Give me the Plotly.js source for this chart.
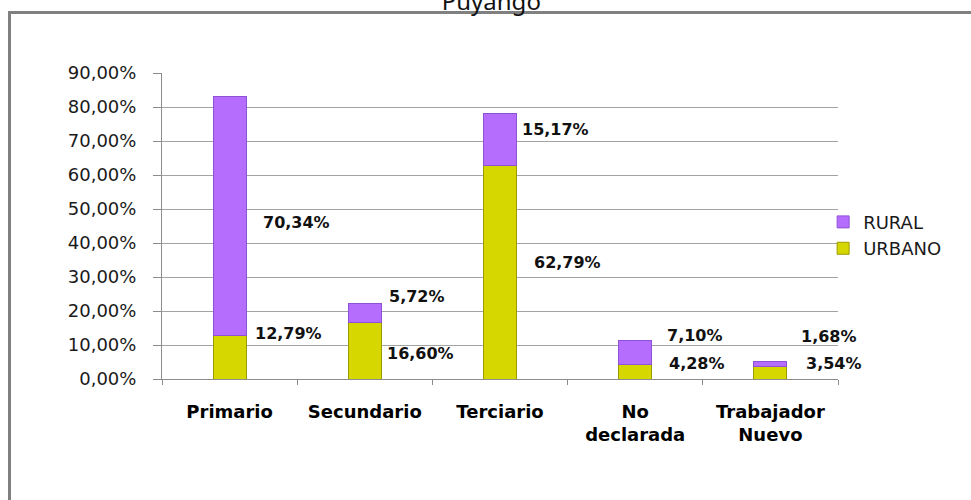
<!DOCTYPE html>
<html>
<head>
<meta charset="utf-8">
<script src="https://cdn.plot.ly/plotly-3.0.1.min.js"></script>
<style>
  body { margin: 0; background: #fff; }
  #plot { width: 971px; height: 500px; }
</style>
</head>
<body>
<div id="plot"></div>
<script>
// sectores de actividad - Puyango
var categories = ["Primario", "Secundario", "Terciario", "No<br>declarada", "Trabajador<br>Nuevo"];
var urbano = [12.79, 16.60, 62.79, 4.28, 3.54];
var rural = [70.34, 5.72, 15.17, 7.10, 1.68];

// where the value labels sit (y in axis units, x shift in px from bar centre)
var urbanoLabelY = [13.5, 7.6, 34.4, 4.7, 4.7];
var ruralLabelY = [45.9, 24.4, 73.5, 12.9, 12.6];
var urbanoLabelDx = [23, 20, 32, 32, 34];
var ruralLabelDx = [31, 22, 20, 30, 29];

function pct(v) {
  return v.toFixed(2).replace(".", ",") + "%";
}

var trace1 = {
  x: categories,
  y: urbano,
  name: "URBANO",
  type: "bar",
  width: 0.245,
  marker: { color: "#d6d600", line: { color: "#9c9c00", width: 1 } },
  hoverinfo: "none"
};

var trace2 = {
  x: categories,
  y: rural,
  name: "RURAL",
  type: "bar",
  width: 0.245,
  marker: { color: "#b56dfd", line: { color: "#8f52d6", width: 1 } },
  hoverinfo: "none"
};

var data = [trace1, trace2];

var annotations = [];
for (var i = 0; i < categories.length; i++) {
  annotations.push({
    x: categories[i], y: urbanoLabelY[i], xshift: urbanoLabelDx[i],
    text: pct(urbano[i]), showarrow: false, xanchor: "left", yanchor: "middle",
    font: { family: "DejaVu Sans", size: 16, color: "#111", weight: "bold" }
  });
  annotations.push({
    x: categories[i], y: ruralLabelY[i], xshift: ruralLabelDx[i],
    text: pct(rural[i]), showarrow: false, xanchor: "left", yanchor: "middle",
    font: { family: "DejaVu Sans", size: 16, color: "#111", weight: "bold" }
  });
}

var layout = {
  width: 971,
  height: 500,
  margin: { l: 162, r: 133, t: 73, b: 121 },
  paper_bgcolor: "#fff",
  plot_bgcolor: "#fff",
  separators: ",.",
  barmode: "stack",
  title: {
    text: "Puyango",
    font: { family: "Noto Sans", size: 24, color: "#111" },
    xref: "container", x: 0.506, xanchor: "center",
    yref: "container", y: 0.98, yanchor: "bottom"
  },
  xaxis: {
    type: "category",
    range: [-0.5, 4.5],
    autorange: false,
    showgrid: false,
    showline: true,
    linecolor: "#8c8c8c",
    ticks: "outside",
    tickson: "boundaries",
    ticklen: 5,
    tickcolor: "#8c8c8c",
    ticklabelstandoff: 16,
    tickfont: { family: "DejaVu Sans", size: 18, color: "#000", weight: "bold" },
    fixedrange: true
  },
  yaxis: {
    range: [0, 90],
    autorange: false,
    dtick: 10,
    tickformat: ".2f",
    ticksuffix: "%",
    showgrid: true,
    gridcolor: "#a3a3a3",
    showline: true,
    linecolor: "#8c8c8c",
    ticks: "outside",
    ticklen: 8,
    tickcolor: "#8c8c8c",
    ticklabelstandoff: 13,
    zeroline: false,
    tickfont: { family: "DejaVu Sans", size: 18, color: "#1a1a1a" },
    fixedrange: true
  },
  legend: {
    x: 0.978, xanchor: "left",
    y: 0.47, yanchor: "middle",
    traceorder: "reversed",
    font: { family: "DejaVu Sans", size: 18, color: "#1a1a1a" },
    bgcolor: "rgba(0,0,0,0)"
  },
  shapes: [{
    type: "rect", xref: "paper", yref: "paper",
    x0: -0.2256, x1: 1.3, y0: -0.5, y1: 1.1977,
    line: { color: "#808080", width: 3 },
    fillcolor: "rgba(0,0,0,0)",
    layer: "below"
  }],
  annotations: annotations
};

Plotly.newPlot("plot", data, layout, { staticPlot: true });
</script>
</body>
</html>
